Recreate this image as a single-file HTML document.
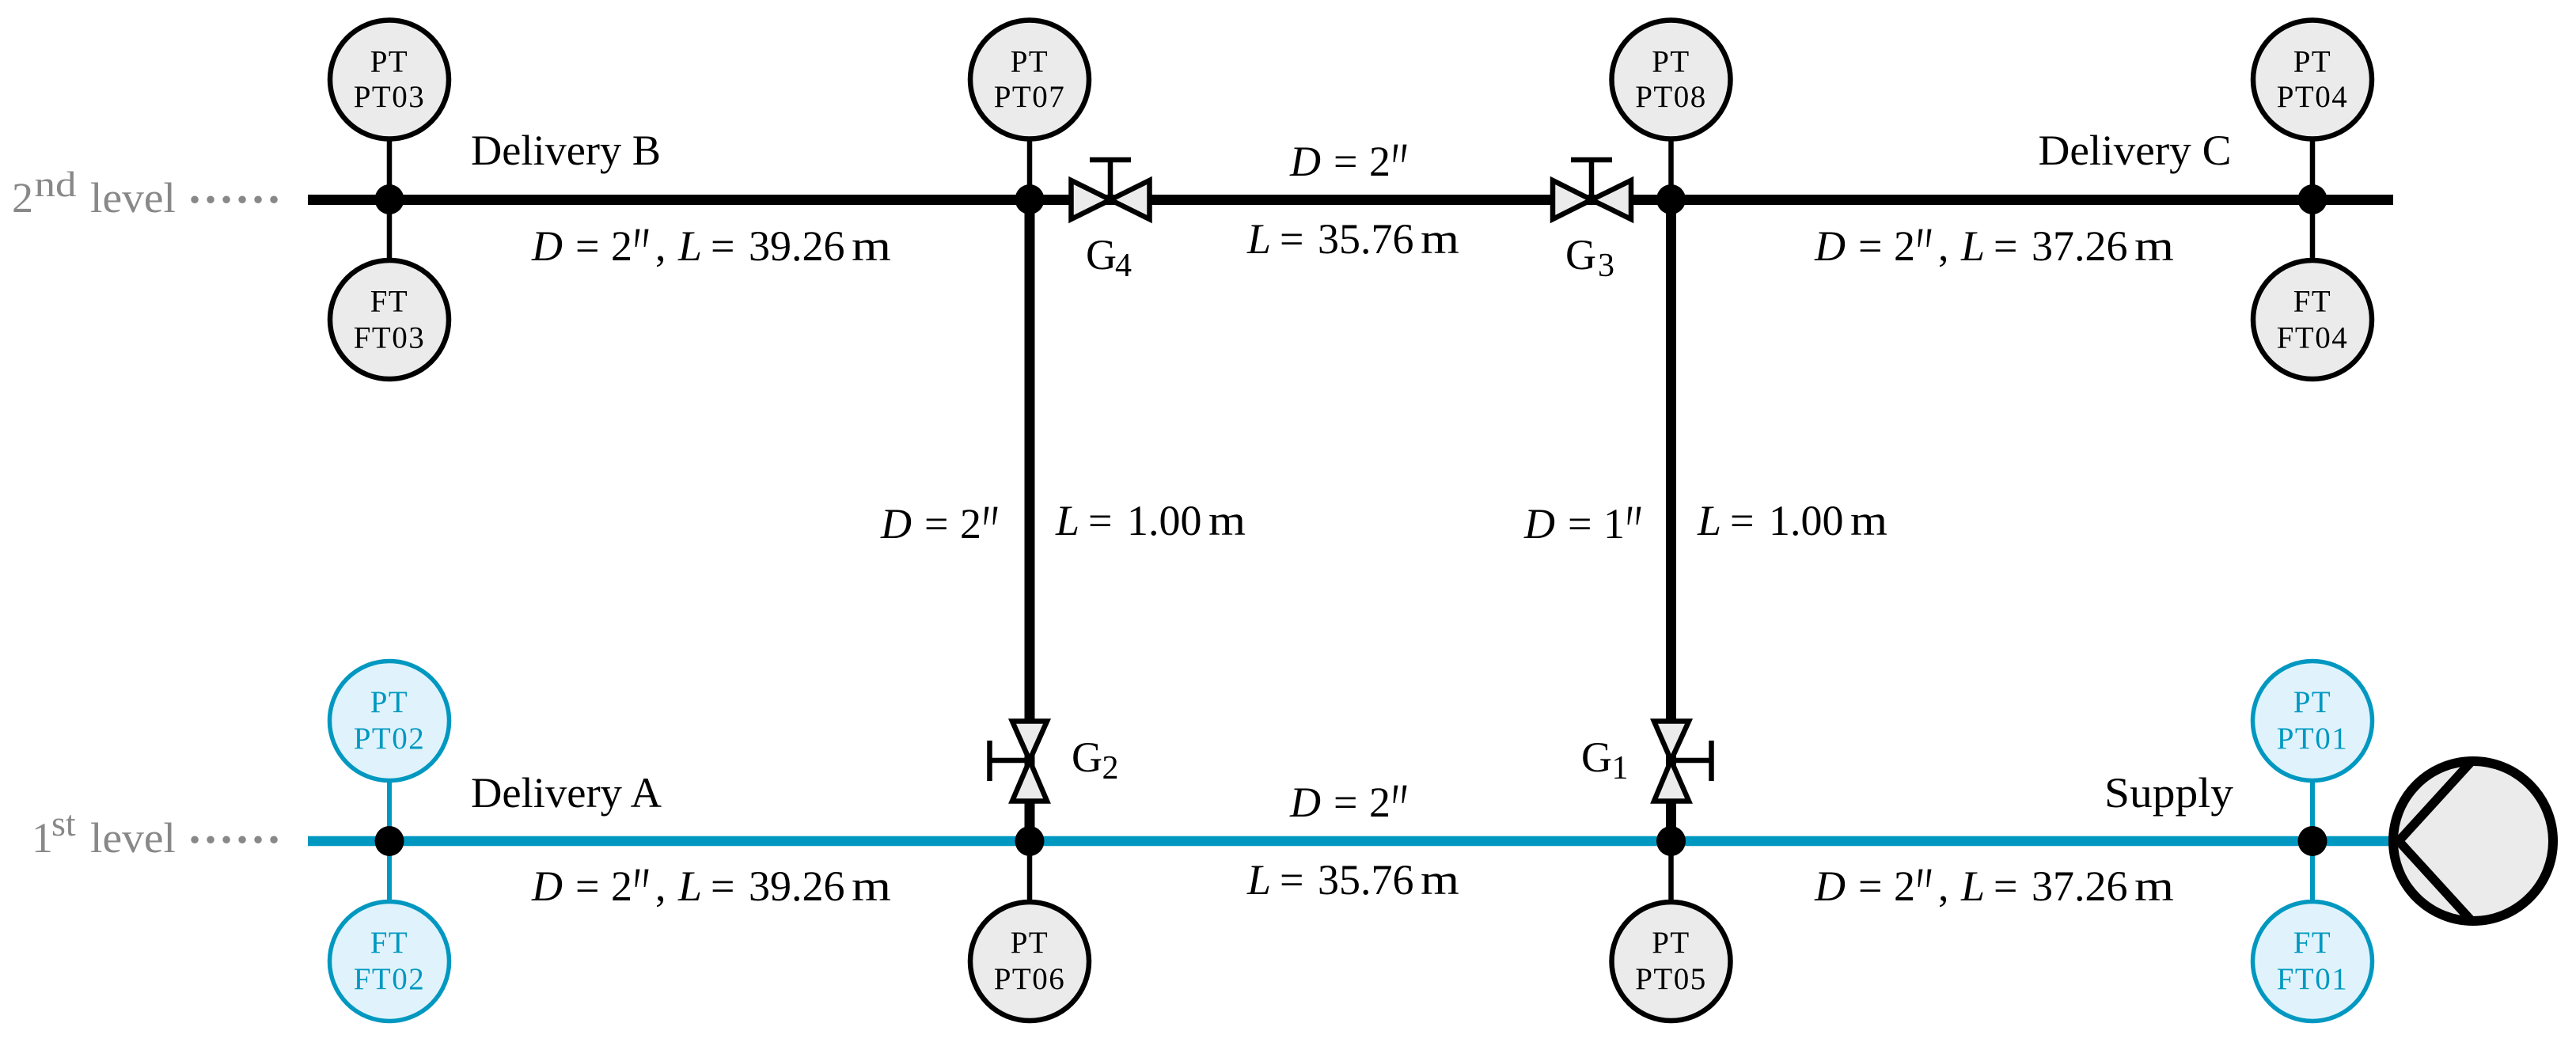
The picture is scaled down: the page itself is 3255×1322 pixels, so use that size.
<!DOCTYPE html>
<html><head><meta charset="utf-8"><title>Piping diagram</title>
<style>
html,body{margin:0;padding:0;background:#fff}
svg{display:block}
text{font-family:"Liberation Serif",serif;font-size:54px;fill:#000}
.i{font-style:italic}
.p{font-style:italic;font-size:50px}
.s{font-size:42px}
.u{font-size:46px}
.d{font-size:80px}
.g{fill:#888}
.t{font-size:39px;letter-spacing:1.5px;text-anchor:middle}
.b{fill:#0098c0}
.gc{fill:#ebebeb;stroke:#000;stroke-width:6.5}
.bc{fill:#e0f3fd;stroke:#0098c0;stroke-width:5.5}
.v{fill:#ebebeb;stroke:#000;stroke-width:6.5;stroke-linejoin:miter}
</style></head><body>
<svg width="3255" height="1322" viewBox="0 0 3255 1322" xmlns="http://www.w3.org/2000/svg">
<rect width="3255" height="1322" fill="#fff"/>

<!-- stems -->
<g stroke="#000" stroke-width="6.5" fill="none">
<path d="M492 100V404M1301 100V252M2111.5 100V252M2922 100V404M1301 1063V1215M2111.5 1063V1215"/>
</g>
<g stroke="#0098c0" stroke-width="6" fill="none">
<path d="M492 911V1215M2922 911V1215"/>
</g>

<!-- pipes -->
<path d="M389 252.5H3024" stroke="#000" stroke-width="13" fill="none"/>
<path d="M1301 252V1063M2111.5 252V1063" stroke="#000" stroke-width="13" fill="none"/>
<path d="M389 1063H3030" stroke="#0098c0" stroke-width="12.5" fill="none"/>

<!-- nodes -->
<g fill="#000">
<ellipse cx="492" cy="252" rx="18.5" ry="19"/>
<ellipse cx="1301" cy="252" rx="18.5" ry="19"/>
<ellipse cx="2111.5" cy="252" rx="18.5" ry="19"/>
<ellipse cx="2922" cy="252" rx="18.5" ry="19"/>
<ellipse cx="492" cy="1063" rx="18.5" ry="19"/>
<ellipse cx="1301" cy="1063" rx="18.5" ry="19"/>
<ellipse cx="2111.5" cy="1063" rx="18.5" ry="19"/>
<ellipse cx="2922" cy="1063" rx="18.5" ry="19"/>
</g>

<!-- instruments -->
<circle class="gc" cx="492" cy="100.5" r="75"/>
<text class="t" x="492" y="90.5">PT</text><text class="t" x="492" y="135">PT03</text>
<circle class="gc" cx="1301" cy="100.5" r="75"/>
<text class="t" x="1301" y="90.5">PT</text><text class="t" x="1301" y="135">PT07</text>
<circle class="gc" cx="2111.5" cy="100.5" r="75"/>
<text class="t" x="2111.5" y="90.5">PT</text><text class="t" x="2111.5" y="135">PT08</text>
<circle class="gc" cx="2922" cy="100.5" r="75"/>
<text class="t" x="2922" y="90.5">PT</text><text class="t" x="2922" y="135">PT04</text>
<circle class="gc" cx="492" cy="404" r="75"/>
<text class="t" x="492" y="393.5">FT</text><text class="t" x="492" y="439.5">FT03</text>
<circle class="gc" cx="2922" cy="404" r="75"/>
<text class="t" x="2922" y="393.5">FT</text><text class="t" x="2922" y="439.5">FT04</text>

<circle class="bc" cx="492" cy="911" r="75.5"/>
<text class="t b" x="492" y="900">PT</text><text class="t b" x="492" y="946">PT02</text>
<circle class="bc" cx="2922" cy="911" r="75.5"/>
<text class="t b" x="2922" y="900">PT</text><text class="t b" x="2922" y="946">PT01</text>
<circle class="bc" cx="492" cy="1215" r="75.5"/>
<text class="t b" x="492" y="1204">FT</text><text class="t b" x="492" y="1250">FT02</text>
<circle class="bc" cx="2922" cy="1215" r="75.5"/>
<text class="t b" x="2922" y="1204">FT</text><text class="t b" x="2922" y="1250">FT01</text>
<circle class="gc" cx="1301" cy="1215" r="75"/>
<text class="t" x="1301" y="1204">PT</text><text class="t" x="1301" y="1250">PT06</text>
<circle class="gc" cx="2111.5" cy="1215" r="75"/>
<text class="t" x="2111.5" y="1204">PT</text><text class="t" x="2111.5" y="1250">PT05</text>

<!-- valves horizontal -->
<path class="v" d="M1353.5 228V277L1403 252.5ZM1452.5 228V277L1403 252.5Z"/>
<path d="M1403 252V202M1377 202H1429" stroke="#000" stroke-width="6.5" fill="none"/>
<path class="v" d="M1962 228V277L2011 252.5ZM2061 228V277L2011 252.5Z"/>
<path d="M2011 252V202M1985 202H2037" stroke="#000" stroke-width="6.5" fill="none"/>

<!-- valves vertical -->
<path class="v" d="M1279 911.5H1323L1301 961ZM1279 1012.5H1323L1301 961Z"/>
<path d="M1301 961H1250.5M1250.5 936V987" stroke="#000" stroke-width="6.5" fill="none"/>
<path class="v" d="M2090 911.5H2134L2111.5 961ZM2090 1012.5H2134L2111.5 961Z"/>
<path d="M2111.5 961H2162.5M2162.5 936V987" stroke="#000" stroke-width="6.5" fill="none"/>

<!-- pump -->
<circle cx="3125" cy="1063" r="101" fill="#ebebeb" stroke="#000" stroke-width="12"/>
<path d="M3125 960L3031 1063L3125 1166" fill="none" stroke="#000" stroke-width="11.5" stroke-linejoin="miter"/>

<!-- level labels -->
<text class="g" x="15" y="268">2</text><text class="g u" x="43.5" y="248" textLength="53" lengthAdjust="spacingAndGlyphs">nd</text><text class="g" x="114" y="268" textLength="108" lengthAdjust="spacingAndGlyphs">level</text>
<text class="g d" x="232.7 252.7 272.7 292.7 312.7 332.7" y="279">······</text>
<text class="g" x="40" y="1077">1</text><text class="g u" x="65" y="1056">st</text><text class="g" x="114" y="1077" textLength="108" lengthAdjust="spacingAndGlyphs">level</text>
<text class="g d" x="232.7 252.7 272.7 292.7 312.7 332.7" y="1088">······</text>

<!-- names -->
<text x="595" y="208" textLength="240" lengthAdjust="spacingAndGlyphs">Delivery B</text>
<text x="2575.5" y="208" textLength="244" lengthAdjust="spacingAndGlyphs">Delivery C</text>
<text x="595" y="1020" textLength="241" lengthAdjust="spacingAndGlyphs">Delivery A</text>
<text x="2659" y="1020" textLength="163" lengthAdjust="spacingAndGlyphs">Supply</text>

<!-- valve labels -->
<text x="1372" y="340">G</text><text class="s" x="1409" y="349">4</text>
<text x="1978" y="340">G</text><text class="s" x="2019" y="349">3</text>
<text x="1354" y="975">G</text><text class="s" x="1392.5" y="984">2</text>
<text x="1998" y="975">G</text><text class="s" x="2036.5" y="984">1</text>

<!-- D, L labels -->
<g transform="translate(672,329)"><text><tspan class="i" x="0">D</tspan><tspan x="55">=</tspan><tspan x="100">2</tspan><tspan x="156">,</tspan><tspan class="i" x="185">L</tspan><tspan x="226">=</tspan><tspan x="274">39.26</tspan></text><text class="p" x="0 11" y="0" transform="translate(125,23) scale(1,1.9)">′′</text><text x="404" textLength="50" lengthAdjust="spacingAndGlyphs">m</text></g>
<g transform="translate(672,1138)"><text><tspan class="i" x="0">D</tspan><tspan x="55">=</tspan><tspan x="100">2</tspan><tspan x="156">,</tspan><tspan class="i" x="185">L</tspan><tspan x="226">=</tspan><tspan x="274">39.26</tspan></text><text class="p" x="0 11" y="0" transform="translate(125,23) scale(1,1.9)">′′</text><text x="404" textLength="50" lengthAdjust="spacingAndGlyphs">m</text></g>
<g transform="translate(2293,329)"><text><tspan class="i" x="0">D</tspan><tspan x="55">=</tspan><tspan x="100">2</tspan><tspan x="156">,</tspan><tspan class="i" x="185">L</tspan><tspan x="226">=</tspan><tspan x="274">37.26</tspan></text><text class="p" x="0 11" y="0" transform="translate(125,23) scale(1,1.9)">′′</text><text x="404" textLength="50" lengthAdjust="spacingAndGlyphs">m</text></g>
<g transform="translate(2293,1138)"><text><tspan class="i" x="0">D</tspan><tspan x="55">=</tspan><tspan x="100">2</tspan><tspan x="156">,</tspan><tspan class="i" x="185">L</tspan><tspan x="226">=</tspan><tspan x="274">37.26</tspan></text><text class="p" x="0 11" y="0" transform="translate(125,23) scale(1,1.9)">′′</text><text x="404" textLength="50" lengthAdjust="spacingAndGlyphs">m</text></g>

<g transform="translate(1630,222)"><text><tspan class="i" x="0">D</tspan><tspan x="55">=</tspan><tspan x="100">2</tspan></text><text class="p" x="0 11" y="0" transform="translate(125,23) scale(1,1.9)">′′</text></g>
<g transform="translate(1630,1032)"><text><tspan class="i" x="0">D</tspan><tspan x="55">=</tspan><tspan x="100">2</tspan></text><text class="p" x="0 11" y="0" transform="translate(125,23) scale(1,1.9)">′′</text></g>
<g transform="translate(1576,320)"><text><tspan class="i" x="0">L</tspan><tspan x="41">=</tspan><tspan x="89">35.76</tspan></text><text x="219" textLength="49" lengthAdjust="spacingAndGlyphs">m</text></g>
<g transform="translate(1576,1130)"><text><tspan class="i" x="0">L</tspan><tspan x="41">=</tspan><tspan x="89">35.76</tspan></text><text x="219" textLength="49" lengthAdjust="spacingAndGlyphs">m</text></g>

<g transform="translate(1113,680)"><text><tspan class="i" x="0">D</tspan><tspan x="55">=</tspan><tspan x="100">2</tspan></text><text class="p" x="0 11" y="0" transform="translate(125,23) scale(1,1.9)">′′</text></g>
<g transform="translate(1926,680)"><text><tspan class="i" x="0">D</tspan><tspan x="55">=</tspan><tspan x="100">1</tspan></text><text class="p" x="0 11" y="0" transform="translate(125,23) scale(1,1.9)">′′</text></g>
<g transform="translate(1334,676)"><text><tspan class="i" x="0">L</tspan><tspan x="41">=</tspan><tspan x="90">1.00</tspan></text><text x="193" textLength="47" lengthAdjust="spacingAndGlyphs">m</text></g>
<g transform="translate(2145,676)"><text><tspan class="i" x="0">L</tspan><tspan x="41">=</tspan><tspan x="90">1.00</tspan></text><text x="193" textLength="47" lengthAdjust="spacingAndGlyphs">m</text></g>
</svg>
</body></html>
